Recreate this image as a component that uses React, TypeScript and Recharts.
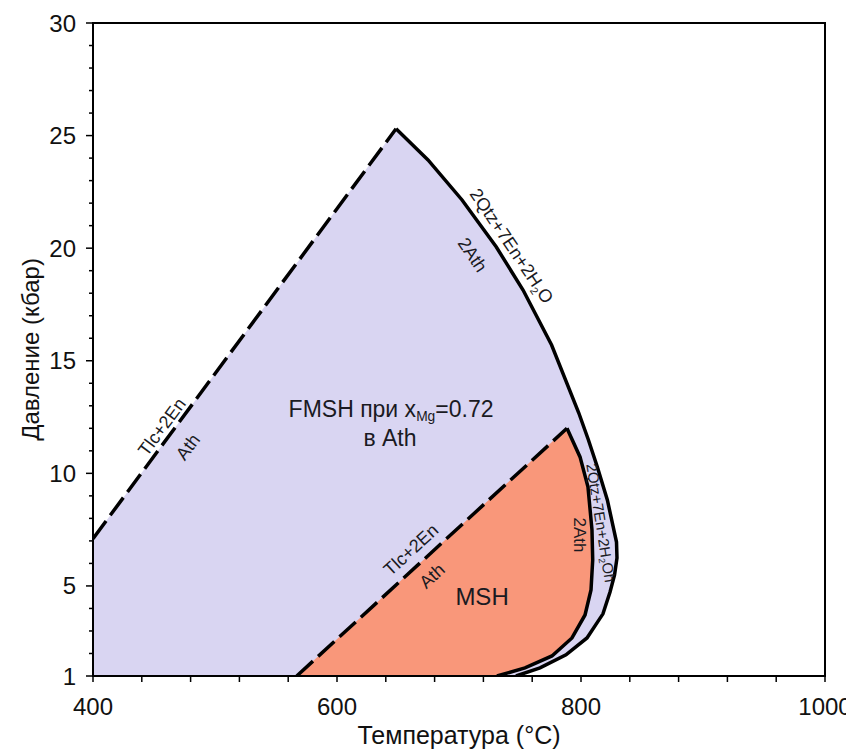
import React from "react";
import { ComposedChart, XAxis, YAxis, Area, Line, ReferenceArea, ReferenceDot, Label } from "recharts";

// Tlc + 2En = Ath (FMSH, x_Mg = 0.72), dashed
const talcLineFMSH = [
  { t: 400, p: 7.1 },
  { t: 648.4, p: 25.3 },
];

// 2Ath = 2Qtz + 7En + 2H2O (FMSH), solid
const athLineFMSH = [
  { t: 648.4, p: 25.3 },
  { t: 674.6, p: 23.92 },
  { t: 702.5, p: 22.14 },
  { t: 730.6, p: 20.05 },
  { t: 752.5, p: 18.14 },
  { t: 775.9, p: 15.7 },
  { t: 798.2, p: 12.68 },
  { t: 806.1, p: 11.48 },
  { t: 813.4, p: 10.28 },
  { t: 821.6, p: 8.82 },
  { t: 826.4, p: 7.62 },
  { t: 829.1, p: 6.95 },
  { t: 829.5, p: 6.24 },
  { t: 827.5, p: 5.49 },
  { t: 823.8, p: 4.73 },
  { t: 818.0, p: 3.76 },
  { t: 804.9, p: 2.69 },
  { t: 787.7, p: 1.94 },
  { t: 766.4, p: 1.36 },
  { t: 746.7, p: 1.0 },
];

// Tlc + 2En = Ath (MSH), dashed
const talcLineMSH = [
  { t: 567, p: 1.0 },
  { t: 788.5, p: 12.0 },
];

// 2Ath = 2Qtz + 7En + 2H2O (MSH), solid
const athLineMSH = [
  { t: 788.5, p: 12.0 },
  { t: 799.2, p: 10.73 },
  { t: 805.7, p: 9.4 },
  { t: 809.0, p: 7.49 },
  { t: 809.6, p: 6.15 },
  { t: 808.2, p: 4.82 },
  { t: 803.3, p: 3.71 },
  { t: 792.6, p: 2.69 },
  { t: 776.2, p: 1.89 },
  { t: 754.1, p: 1.36 },
  { t: 731.1, p: 1.0 },
];

const tTicks = [400, 440, 480, 520, 560, 600, 640, 680, 720, 760, 800, 840, 880, 920, 960, 1000];
const tLabels = [400, 600, 800, 1000];
const pTicks = [1, 2, 3, 4, 5, 6, 7, 8, 9, 10, 11, 12, 13, 14, 15, 16, 17, 18, 19, 20, 21, 22, 23, 24, 25, 26, 27, 28, 29, 30];
const pLabels = [1, 5, 10, 15, 20, 25, 30];

const fmshField = [...talcLineFMSH, ...athLineFMSH.slice(1)];
const mshField = [...talcLineMSH, ...athLineMSH.slice(1)];

const FONT = "'Liberation Sans', Arial, sans-serif";
const LAVENDER = "#d9d5f2";
const SALMON = "#f9977a";

const sub = (s: string) => (
  <tspan baselineShift="sub" fontSize="60%">{s}</tspan>
);

const notes = [
  { t: 743, p: 20.1, angle: 56, size: 18, body: <>2Qtz+7En+2H{sub("2")}O</> },
  { t: 711, p: 19.7, angle: 56, size: 18, body: <>2Ath</> },
  { t: 456.6, p: 12.06, angle: -53.5, size: 18, body: <>Tlc+2En</> },
  { t: 477.9, p: 11.17, angle: -53.5, size: 18, body: <>Ath</> },
  { t: 644.3, p: 12.86, angle: 0, size: 23, body: <>FMSH при x{sub("Mg")}=0.72</> },
  { t: 643.4, p: 11.57, angle: 0, size: 23, body: <>в Ath</> },
  { t: 718.9, p: 4.51, angle: 0, size: 24, body: <>MSH</> },
  { t: 660.7, p: 6.6, angle: -42.6, size: 18, body: <>Tlc+2En</> },
  { t: 677.9, p: 5.44, angle: -42.6, size: 18, body: <>Ath</> },
  { t: 816.4, p: 7.8, angle: 81, size: 15, body: <>2Qtz+7En+2H{sub("2")}Oh</> },
  { t: 798.5, p: 7.26, angle: 90, size: 17, body: <>2Ath</> },
];

function TTick({ x, y, payload }: any) {
  const v = payload.value;
  return (
    <g>
      <line x1={x} x2={x} y1={y} y2={y + 6} stroke="#000" strokeWidth={1.5} />
      {tLabels.includes(v) && (
        <text x={x} y={y + 30} textAnchor="middle" dominantBaseline="central" fontSize={24} fontFamily={FONT} fill="#111">
          {v}
        </text>
      )}
    </g>
  );
}

function PTick({ x, y, payload }: any) {
  const v = payload.value;
  const major = pLabels.includes(v);
  return (
    <g>
      <line x1={x} x2={x - (major ? 7 : 4)} y1={y} y2={y} stroke="#000" strokeWidth={1.5} />
      {major && (
        <text x={x - 17} y={y} textAnchor="end" dominantBaseline="central" fontSize={24} fontFamily={FONT} fill="#111">
          {v}
        </text>
      )}
    </g>
  );
}

export default function App() {
  return (
    <div style={{ width: 846, height: 741, background: "#fff" }}>
      <ComposedChart width={846} height={741} margin={{ top: 15, right: 29, bottom: 33, left: 25 }}>
        <XAxis
          type="number"
          dataKey="t"
          domain={[400, 1000]}
          ticks={tTicks}
          interval={0}
          allowDataOverflow
          height={40}
          tickSize={0}
          tickMargin={0}
          tick={<TTick />}
          axisLine={{ stroke: "#000", strokeWidth: 2 }}
        >
          <Label
            content={({ viewBox }: any) => (
              <text
                x={viewBox.x + viewBox.width / 2}
                y={viewBox.y + 59}
                textAnchor="middle"
                dominantBaseline="central"
                fontSize={25}
                fontFamily={FONT}
                fill="#111"
              >
                Температура (°C)
              </text>
            )}
          />
        </XAxis>
        <YAxis
          type="number"
          dataKey="p"
          domain={[1, 30]}
          ticks={pTicks}
          interval={0}
          allowDataOverflow
          width={60}
          tickSize={0}
          tickMargin={0}
          tick={<PTick />}
          axisLine={{ stroke: "#000", strokeWidth: 2 }}
        >
          <Label
            content={({ viewBox }: any) => {
              const cx = 22;
              const cy = viewBox.y + viewBox.height / 2;
              return (
                <text
                  x={cx}
                  y={cy}
                  textAnchor="middle"
                  dominantBaseline="central"
                  fontSize={24}
                  fontFamily={FONT}
                  fill="#111"
                  transform={`rotate(-90 ${cx} ${cy})`}
                >
                  Давление (кбар)
                </text>
              );
            }}
          />
        </YAxis>

        <Area
          data={fmshField}
          dataKey="p"
          type="linear"
          baseValue={1}
          fill={LAVENDER}
          fillOpacity={1}
          stroke="none"
          isAnimationActive={false}
        />
        <Area
          data={mshField}
          dataKey="p"
          type="linear"
          baseValue={1}
          fill={SALMON}
          fillOpacity={1}
          stroke="none"
          isAnimationActive={false}
        />

        <ReferenceArea x1={400} x2={1000} y1={1} y2={30} fill="none" fillOpacity={0} stroke="#000" strokeWidth={2} ifOverflow="visible" />

        <Line data={talcLineFMSH} dataKey="p" type="linear" stroke="#000" strokeWidth={3.5} strokeDasharray="22 7" dot={false} isAnimationActive={false} />
        <Line data={athLineFMSH} dataKey="p" type="linear" stroke="#000" strokeWidth={3.5} dot={false} isAnimationActive={false} />
        <Line data={talcLineMSH} dataKey="p" type="linear" stroke="#000" strokeWidth={3.5} strokeDasharray="22 7" dot={false} isAnimationActive={false} />
        <Line data={athLineMSH} dataKey="p" type="linear" stroke="#000" strokeWidth={3.5} dot={false} isAnimationActive={false} />

        {notes.map((n, i) => (
          <ReferenceDot
            key={i}
            x={n.t}
            y={n.p}
            r={0}
            shape={(props: any) => (
              <text
                x={props.cx}
                y={props.cy}
                textAnchor="middle"
                dominantBaseline="central"
                fontSize={n.size}
                fontFamily={FONT}
                fill="#1a1a22"
                transform={`rotate(${n.angle} ${props.cx} ${props.cy})`}
              >
                {n.body}
              </text>
            )}
          />
        ))}
      </ComposedChart>
    </div>
  );
}
